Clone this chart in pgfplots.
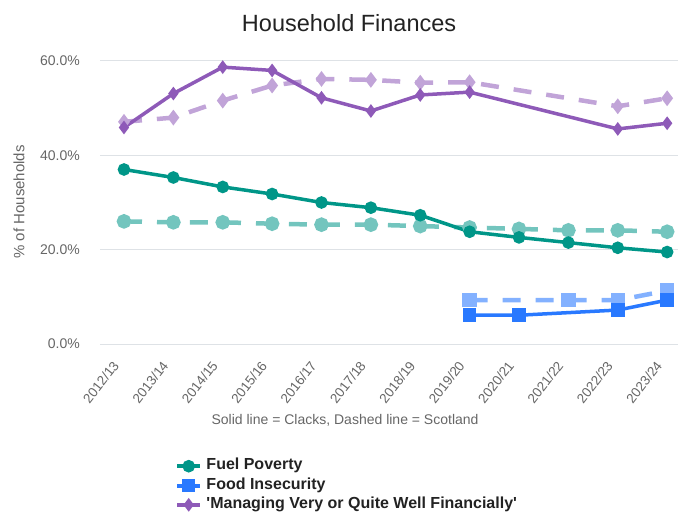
\documentclass[border=0pt]{standalone}
\usepackage{pgfplots}
\pgfplotsset{compat=1.18}
\usepackage{fontspec}
\setmainfont{Liberation Sans}
\definecolor{fuel}{RGB}{0,150,136}
\definecolor{food}{RGB}{41,121,255}
\definecolor{manage}{RGB}{142,90,184}
\colorlet{fuelS}{fuel!55!white}
\colorlet{foodS}{food!58!white}
\colorlet{manageS}{manage!55!white}
\definecolor{tickgray}{RGB}{102,102,102}
\definecolor{gridgray}{RGB}{222,226,230}
\definecolor{txt}{RGB}{34,34,34}

\pgfplotstableread{
x fuelC fuelS
0 37.0 26.0
1 35.3 25.8
2 33.3 25.8
3 31.8 25.5
4 30.0 25.3
5 28.9 25.3
6 27.3 25.0
7 23.8 24.7
8 22.6 24.4
9 21.5 24.1
10 20.4 24.1
11 19.5 23.8
}\fueltab

\pgfplotstableread{
x foodC
7 6.1
8 6.1
10 7.2
11 9.3
}\foodCtab

\pgfplotstableread{
x foodS
7 9.3
9 9.3
10 9.3
11 11.3
}\foodStab

\pgfplotstableread{
x manC
0 45.9
1 53.1
2 58.7
3 58.0
4 52.2
5 49.4
6 52.8
7 53.4
10 45.6
11 46.8
}\manCtab

\pgfplotstableread{
x manS
0 47.1
1 48.0
2 51.6
3 54.8
4 56.2
5 56.0
6 55.4
7 55.5
10 50.4
11 52.1
}\manStab

\begin{document}
\begin{tikzpicture}
\path[use as bounding box] (-100bp,-169bp) rectangle (578bp,344bp);
\begin{axis}[
  at={(0,0)}, anchor=south west,
  scale only axis, width=578bp, height=283bp,
  xmin=-0.486, xmax=11.22, ymin=0, ymax=60,
  clip=false,
  axis line style={draw=none},
  major tick length=0pt,
  ymajorgrids, grid style={draw=gridgray, line width=1bp},
  ytick={0,20,40,60},
  yticklabels={0.0\%,20.0\%,40.0\%,60.0\%},
  yticklabel style={font=\fontsize{14bp}{16bp}\selectfont, text=tickgray, anchor=east, inner sep=0pt, xshift=-20bp},
  xtick={0,...,11},
  xticklabels={2012/13,2013/14,2014/15,2015/16,2016/17,2017/18,2018/19,2019/20,2020/21,2021/22,2022/23,2023/24},
  xticklabel style={font=\fontsize{13.5bp}{16bp}\selectfont, text=tickgray, inner sep=0pt, xshift=-8bp, yshift=-19bp, rotate=52, anchor=east},
  title={Household Finances},
  title style={font=\fontsize{23.5bp}{26bp}\selectfont, text=txt, at={(axis description cs:0.431,1.112)}, anchor=center, inner sep=0pt},
  xlabel={Solid line = Clacks, Dashed line = Scotland},
  xlabel style={font=\fontsize{14bp}{16bp}\selectfont, text=tickgray, at={(axis description cs:0.424,-0.2686)}, anchor=center, inner sep=0pt},
  ylabel={\% of Households},
  ylabel style={font=\fontsize{15bp}{17bp}\selectfont, text=tickgray, at={(axis description cs:-0.1402,0.502)}, anchor=center, inner sep=0pt},
  legend cell align=left,
  legend style={at={(axis description cs:0.1298,-0.397)}, anchor=north west, draw=none, fill=none,
    font=\bfseries\fontsize{16bp}{19bp}\selectfont, text=txt, row sep=0pt, inner sep=0pt,
    nodes={inner sep=0pt, text height=13.3bp, text depth=6bp}},
  legend image code/.code={\draw[#1, line width=4bp] (0bp,0bp) -- (23bp,0bp); \path[#1, mark repeat=1] plot coordinates {(11.5bp,0bp)}; \path (27.5bp,0bp);},
]
% Scotland (dashed)
\addplot[forget plot, color=fuelS, line width=4.5bp, dash pattern=on 18bp off 15bp, mark=*, mark size=5bp, mark options={solid, draw=none, fill=fuelS}] table[x=x,y=fuelS] {\fueltab};
\addplot[forget plot, color=foodS, line width=4.5bp, dash pattern=on 18bp off 15bp, mark=square*, mark size=5bp, mark options={solid, draw=none, fill=foodS}] table[x=x,y=foodS] {\foodStab};
\addplot[forget plot, color=manageS, line width=4.5bp, dash pattern=on 18bp off 15bp, mark=diamond*, mark size=4.2bp, mark options={solid, draw=none, fill=manageS}] table[x=x,y=manS] {\manStab};
% Clacks (solid)
\addplot[color=fuel, line width=3.5bp, mark=*, mark size=4.5bp, mark options={draw=none, fill=fuel}] table[x=x,y=fuelC] {\fueltab};
\addlegendentry{Fuel Poverty}
\addplot[color=food, line width=3.5bp, mark=square*, mark size=5bp, mark options={draw=none, fill=food}] table[x=x,y=foodC] {\foodCtab};
\addlegendentry{Food Insecurity}
\addplot[color=manage, line width=3.5bp, mark=diamond*, mark size=4bp, mark options={draw=none, fill=manage}] table[x=x,y=manC] {\manCtab};
\addlegendentry{\textquotesingle Managing Very or Quite Well Financially\textquotesingle}
\end{axis}
\end{tikzpicture}
\end{document}
